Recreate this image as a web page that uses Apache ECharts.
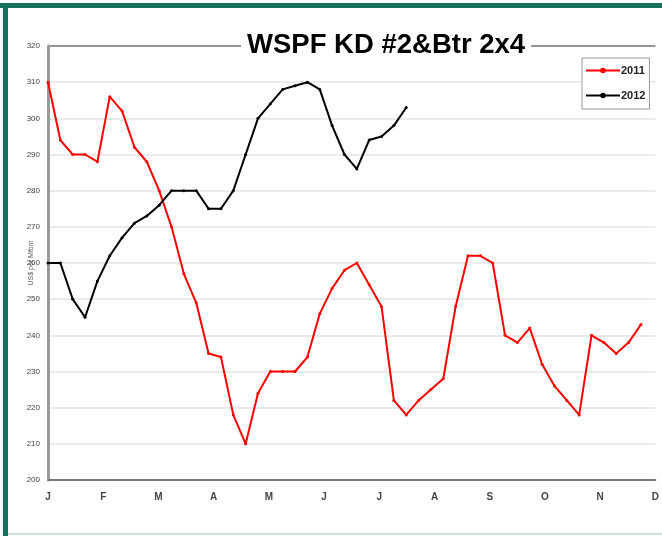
<!DOCTYPE html>
<html>
<head>
<meta charset="utf-8">
<script src="https://cdn.jsdelivr.net/npm/echarts@6/dist/echarts.min.js"></script>
<style>
  html, body { margin: 0; padding: 0; background: #fff; }
  #chart { width: 662px; height: 536px; }
</style>
</head>
<body>
<div id="chart"></div>
<script>
// month tick labels (J..D)
const monthLabels = ["J", "F", "M", "A", "M", "J", "J", "A", "S", "O", "N", "D"];
// weekly prices, US$ per Mfbm
const prices2011 = [310, 294, 290, 290, 288, 306, 302, 292, 288, 280, 270, 257, 249, 235, 234, 218, 210,
  224, 230, 230, 230, 234, 246, 253, 258, 260, 254, 248, 222, 218, 222, 225, 228, 248, 262, 262, 260,
  240, 238, 242, 232, 226, 222, 218, 240, 238, 235, 238, 243];
const prices2012 = [260, 260, 250, 245, 255, 262, 267, 271, 273, 276, 280, 280, 280, 275, 275, 280, 290,
  300, 304, 308, 309, 310, 308, 298, 290, 286, 294, 295, 298, 303];

const weeksPerMonth = 4.47;
const toPairs = (arr) => arr.map((v, i) => [i / weeksPerMonth, v]);

const chart = echarts.init(document.getElementById("chart"));

// split lines: last one (320) is the dark top border
const splitColors = [];
for (let i = 0; i < 13; i++) splitColors.push(i === 12 ? "#6f6f6f" : "#e4e4e4");

const option = {
  backgroundColor: "#fff",
  animation: false,
  title: {
    text: "WSPF KD #2&Btr 2x4",
    left: 241,
    top: 30,
    padding: [1, 6, 1, 6],
    backgroundColor: "#fff",
    textStyle: {
      fontFamily: "Liberation Sans, Arial",
      fontSize: 27.5,
      fontWeight: "bold",
      color: "#000"
    }
  },
  legend: {
    data: ["2011", "2012"],
    orient: "vertical",
    left: 582,
    top: 58,
    padding: [7, 4, 8, 3],
    itemWidth: 34,
    itemHeight: 7,
    itemGap: 14,
    borderColor: "#999",
    borderWidth: 1,
    backgroundColor: "#fff",
    textStyle: { fontFamily: "Liberation Sans, Arial", fontSize: 11, fontWeight: "bold", color: "#222", padding: [0, 0, 0, -4] }
  },
  grid: { left: 48, right: 5, top: 46, bottom: 56 },
  xAxis: {
    type: "value",
    min: 0,
    max: 11,
    interval: 1,
    axisLine: { show: true, lineStyle: { color: "#7a7a7a", width: 2 } },
    axisTick: { show: false },
    splitLine: { show: false },
    axisLabel: {
      margin: 12,
      fontFamily: "Liberation Sans, Arial",
      fontSize: 10,
      fontWeight: "bold",
      color: "#444",
      formatter: (v) => monthLabels[Math.round(v)]
    }
  },
  yAxis: {
    type: "value",
    min: 200,
    max: 320,
    interval: 10,
    name: "US$ per Mfbm",
    nameLocation: "middle",
    nameRotate: 90,
    nameGap: 13,
    nameMoveOverlap: false,
    nameTextStyle: { fontFamily: "Liberation Sans, Arial", fontSize: 7, color: "#666" },
    axisLine: { show: true, lineStyle: { color: "#9a9a9a", width: 3 } },
    axisTick: { show: false },
    splitLine: { show: true, lineStyle: { color: splitColors, width: 1.5 } },
    axisLabel: {
      margin: 8,
      fontFamily: "Liberation Sans, Arial",
      fontSize: 8,
      color: "#444"
    }
  },
  series: [
    {
      name: "2011",
      type: "line",
      data: toPairs(prices2011),
      symbol: "circle",
      symbolSize: 3,
      lineStyle: { color: "#ff0000", width: 2 },
      itemStyle: { color: "#ff0000" }
    },
    {
      name: "2012",
      type: "line",
      data: toPairs(prices2012),
      symbol: "circle",
      symbolSize: 3,
      lineStyle: { color: "#000", width: 2 },
      itemStyle: { color: "#000" }
    }
  ],
  graphic: [
    // green frame
    { type: "rect", shape: { x: 0, y: 3, width: 662, height: 5 }, style: { fill: "#17705a" }, z: 100 },
    { type: "rect", shape: { x: 3, y: 3, width: 5, height: 533 }, style: { fill: "#17705a" }, z: 100 },
    { type: "rect", shape: { x: 8, y: 533, width: 654, height: 2 }, style: { fill: "#cfe2dd" }, z: 100 }
  ]
};

chart.setOption(option);
</script>
</body>
</html>
